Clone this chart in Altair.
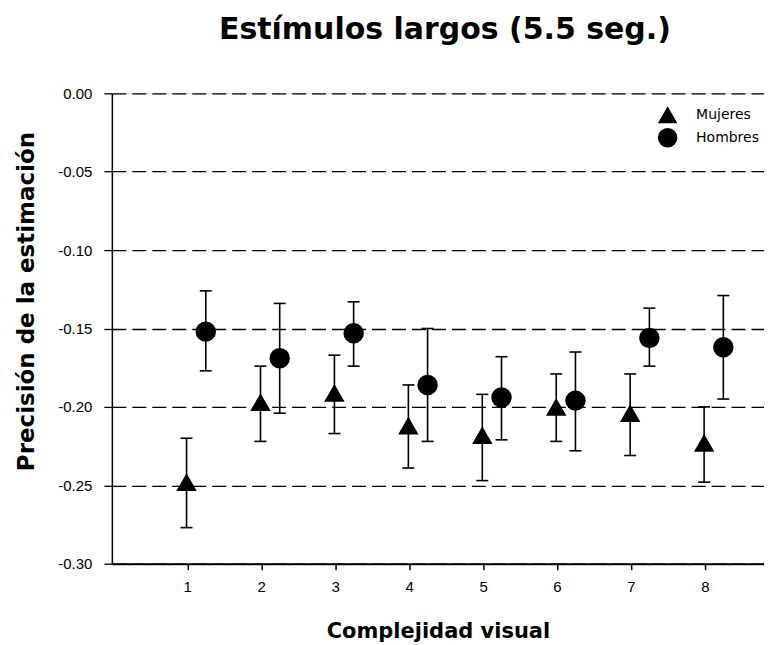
import altair as alt
import pandas as pd

complejidad = [1, 2, 3, 4, 5, 6, 7, 8]
grupos = ["Mujeres", "Hombres"]

mujeres_media = [-0.248, -0.197, -0.191, -0.212, -0.218, -0.200, -0.204, -0.223]
mujeres_sup = [-0.220, -0.174, -0.167, -0.186, -0.192, -0.179, -0.179, -0.200]
mujeres_inf = [-0.277, -0.222, -0.217, -0.239, -0.247, -0.222, -0.231, -0.248]

hombres_media = [-0.152, -0.169, -0.153, -0.186, -0.194, -0.196, -0.156, -0.162]
hombres_sup = [-0.126, -0.134, -0.133, -0.150, -0.168, -0.165, -0.137, -0.129]
hombres_inf = [-0.177, -0.204, -0.174, -0.222, -0.221, -0.228, -0.174, -0.195]

y_ticks = [0.0, -0.05, -0.10, -0.15, -0.20, -0.25, -0.30]

rows = []
for i, c in enumerate(complejidad):
    rows.append({"c": c, "grupo": "Mujeres", "media": mujeres_media[i],
                 "sup": mujeres_sup[i], "inf": mujeres_inf[i]})
    rows.append({"c": c, "grupo": "Hombres", "media": hombres_media[i],
                 "sup": hombres_sup[i], "inf": hombres_inf[i]})
df = pd.DataFrame(rows)

base = alt.Chart(df).transform_calculate(
    xpos="datum.c + (datum.grupo == 'Hombres' ? 0.25 : -0.01)"
)

x_enc = alt.X(
    "xpos:Q",
    scale=alt.Scale(domain=[-0.02, 8.8], nice=False, zero=False),
    axis=alt.Axis(
        values=complejidad, format="d", title="Complejidad visual",
        grid=False, domainColor="black", domainWidth=2, tickColor="black",
        tickWidth=1.5, tickSize=6, labelPadding=10, labelFont="Liberation Sans",
        labelFontSize=15, labelColor="black", titleFont="DejaVu Sans",
        titleFontSize=21, titleFontWeight="bold", titleColor="black",
        titleY=74, titleBaseline="alphabetic",
    ),
)

y_scale = alt.Scale(domain=[-0.30, 0.0], nice=False, zero=False)
y_axis = alt.Axis(
    values=y_ticks, title="Precisión de la estimación",
    labelExpr="replace(format(datum.value, '.2f'), '\u2212', '-')",
    grid=True, gridColor="black", gridDash=[14, 6], gridWidth=1.3, gridOpacity=1,
    domainColor="black", domainWidth=1.5, tickColor="black", tickWidth=1.3,
    tickSize=8, labelPadding=12, labelFont="Liberation Sans", labelFontSize=15,
    labelColor="black", titleFont="DejaVu Sans", titleFontSize=23,
    titleFontWeight="bold", titleColor="black", titleX=-78, titleY=208,
    titleBaseline="alphabetic", titleAngle=270,
)

rules = base.mark_rule(color="black", strokeWidth=1.6).encode(
    x=x_enc,
    y=alt.Y("inf:Q", scale=y_scale, axis=y_axis),
    y2="sup:Q",
)

caps_sup = base.mark_tick(color="black", orient="horizontal", size=12,
                          thickness=1.6, opacity=1).encode(
    x=x_enc, y=alt.Y("sup:Q", scale=y_scale, axis=y_axis)
)
caps_inf = base.mark_tick(color="black", orient="horizontal", size=12,
                          thickness=1.6, opacity=1).encode(
    x=x_enc, y=alt.Y("inf:Q", scale=y_scale, axis=y_axis)
)

points = base.mark_point(filled=True, color="black", opacity=1, size=420).encode(
    x=x_enc,
    y=alt.Y("media:Q", scale=y_scale, axis=y_axis),
    shape=alt.Shape(
        "grupo:N",
        scale=alt.Scale(domain=grupos, range=["triangle-up", "circle"]),
        legend=alt.Legend(
            title=None, orient="none", legendX=546, legendY=11,
            symbolSize=380, symbolFillColor="black", symbolStrokeColor="black",
            symbolOpacity=1, labelFont="DejaVu Sans", labelFontSize=14,
            labelColor="black", labelOffset=18, rowPadding=-2, padding=0,
        ),
    ),
)

chart = alt.layer(rules, caps_sup, caps_inf, points).properties(
    width=653,
    height=471,
    padding={"left": 104, "top": 85, "right": 0, "bottom": 84},
    autosize=alt.AutoSizeParams(type="none"),
    title=alt.TitleParams(
        "Estímulos largos (5.5 seg.)", font="DejaVu Sans", fontSize=30,
        fontWeight="bold", color="black", anchor="middle", frame="group",
        baseline="alphabetic", offset=17, dx=7,
    ),
).configure_view(stroke=None).configure(background="white")

chart.save("out.html", embed_options={"renderer": "svg", "actions": False})
